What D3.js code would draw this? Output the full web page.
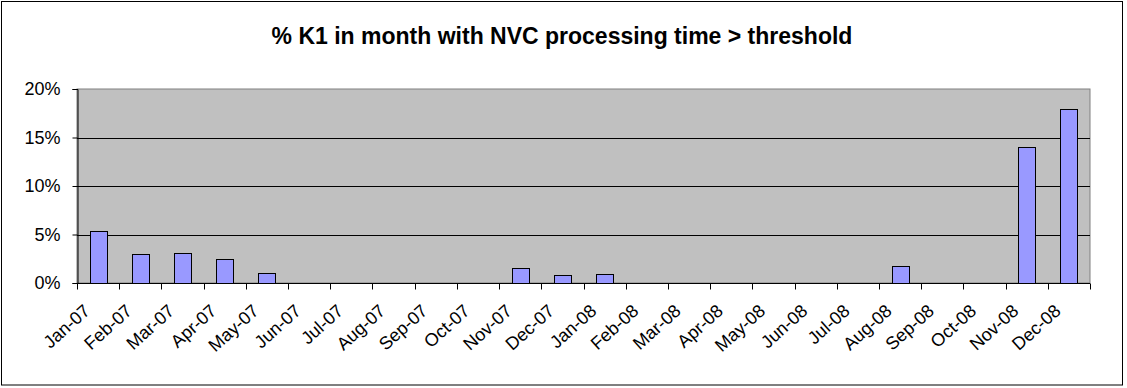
<!DOCTYPE html>
<html>
<head>
<meta charset="utf-8">
<script src="https://cdn.jsdelivr.net/npm/d3@7"></script>
<style>
  body { margin: 0; background: #fff; }
  svg { display: block; font-family: Arial, "Liberation Sans", sans-serif; }
</style>
</head>
<body>
<div id="chart"></div>
<script>
// DATA ###################################################
const months = ["Jan-07", "Feb-07", "Mar-07", "Apr-07", "May-07", "Jun-07",
                "Jul-07", "Aug-07", "Sep-07", "Oct-07", "Nov-07", "Dec-07",
                "Jan-08", "Feb-08", "Mar-08", "Apr-08", "May-08", "Jun-08",
                "Jul-08", "Aug-08", "Sep-08", "Oct-08", "Nov-08", "Dec-08"];
const pctValues = [5.4, 3.0, 3.1, 2.5, 1.0, 0, 0, 0, 0, 0, 1.55, 0.8,
                   0.95, 0, 0, 0, 0, 0, 0, 1.8, 0, 0, 14.05, 17.9];
const yTicks = [0, 5, 10, 15, 20];
const title = "% K1 in month with NVC processing time > threshold";

// LAYOUT #################################################
const width = 1127;
const height = 388;
const plot = { left: 77, right: 1090, top: 89, bottom: 283 };

const svg = d3.select("#chart")
  .append("svg")
  .attr("width", width)
  .attr("height", height);

// chart border
svg.append("rect")
  .attr("x", 1.5).attr("y", 1.5)
  .attr("width", 1121).attr("height", 383.5)
  .attr("fill", "#fff")
  .attr("stroke", "#000");

// SCALES =================================================
const x = d3.scaleBand()
  .domain(months)
  .range([plot.left, plot.right])
  .paddingInner(0.6)
  .paddingOuter(0.3);

const xCat = d3.scaleBand()
  .domain(months)
  .range([plot.left, plot.right]);

const y = d3.scaleLinear()
  .domain([0, 20])
  .range([plot.bottom, plot.top]);

// plot area
svg.append("rect")
  .attr("x", plot.left).attr("y", plot.top)
  .attr("width", plot.right - plot.left)
  .attr("height", plot.bottom - plot.top)
  .attr("fill", "#c0c0c0")
  .attr("stroke", "#808080");

// gridlines
svg.append("g")
  .selectAll("line")
  .data(yTicks.filter(d => d > 0 && d < 20))
  .join("line")
    .attr("x1", plot.left).attr("x2", plot.right)
    .attr("y1", d => Math.round(y(d)) + 0.5)
    .attr("y2", d => Math.round(y(d)) + 0.5)
    .attr("stroke", "#000");

// bars
svg.append("g")
  .selectAll("rect")
  .data(months.map((m, i) => ({ m, v: pctValues[i] })).filter(d => d.v > 0))
  .join("rect")
    .attr("x", d => Math.round(x(d.m)) + 0.5)
    .attr("y", d => Math.round(y(d.v)) + 0.5)
    .attr("width", Math.round(x.bandwidth()))
    .attr("height", d => Math.round(y(0)) - Math.round(y(d.v)))
    .attr("fill", "#9999ff")
    .attr("stroke", "#000");

// Y AXIS ---------------------------------------------------
const yAxis = svg.append("g")
  .attr("transform", `translate(${plot.left + 0.5},0)`)
  .call(d3.axisLeft(y).tickValues(yTicks).tickSize(5).tickPadding(12)
    .tickFormat(d => d + "%"));
yAxis.select(".domain").attr("stroke", "#000");
yAxis.selectAll("text")
  .style("font-size", "18px")
  .attr("fill", "#000");

// X AXIS ---------------------------------------------------
const xAxisG = svg.append("g")
  .attr("transform", `translate(0,${plot.bottom + 0.5})`);
xAxisG.append("line")
  .attr("x1", plot.left).attr("x2", plot.right)
  .attr("stroke", "#000");
xAxisG.selectAll("line.tick")
  .data(months.concat(["end"]))
  .join("line")
    .attr("class", "tick")
    .attr("x1", (d, i) => Math.round(plot.left + i * xCat.step()) + 0.5)
    .attr("x2", (d, i) => Math.round(plot.left + i * xCat.step()) + 0.5)
    .attr("y1", 0).attr("y2", 6)
    .attr("stroke", "#000");
xAxisG.selectAll("text")
  .data(months)
  .join("text")
    .attr("text-anchor", "end")
    .attr("transform", d => `translate(${xCat(d) + xCat.bandwidth() / 2 - 7},29) rotate(-42)`)
    .style("font-size", "18px")
    .attr("fill", "#000")
    .text(d => d);

// TITLE ----------------------------------------------------
svg.append("text")
  .attr("text-anchor", "middle")
  .attr("x", 562)
  .attr("y", 44)
  .style("font-weight", "bold")
  .style("font-size", "23px")
  .attr("fill", "#000")
  .text(title);
</script>
</body>
</html>
